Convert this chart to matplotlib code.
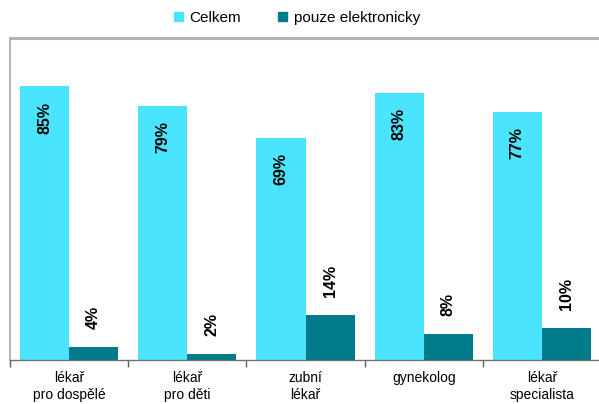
import numpy as np
import matplotlib
matplotlib.use('Agg')
import matplotlib.pyplot as plt
from matplotlib.patches import Patch

plt.rcParams['font.family'] = ['Liberation Sans', 'DejaVu Sans']

categories = ['lékař\npro dospělé', 'lékař\npro děti', 'zubní\nlékař', 'gynekolog', 'lékař\nspecialista']
celkem = [85, 79, 69, 83, 77]
elektronicky = [4, 2, 14, 8, 10]
series_names = ['Celkem', 'pouze elektronicky']

c_light = '#4ae4ff'
c_dark = '#007b8c'

W, H = 599, 404
fig = plt.figure(figsize=(W / 100, H / 100), dpi=100)
# axes in pixel coords: left 10, right 601, top 38, bottom 360
ax = fig.add_axes([10 / W, (H - 360) / H, (601 - 10) / W, (360 - 38) / H])

x = np.arange(len(categories))
bw = 0.415
ax.bar(x - bw / 2, celkem, bw, color=c_light, label=series_names[0])
ax.bar(x + bw / 2, elektronicky, bw, color=c_dark, label=series_names[1])

for xi, v in zip(x, celkem):
    ax.text(xi - bw / 2, v - 4.8, f'{v}%', rotation=90, ha='center', va='top',
            fontsize=11.5, fontweight='bold')
for xi, v in zip(x, elektronicky):
    ax.text(xi + bw / 2, v + 5.6, f'{v}%', rotation=90, ha='center', va='bottom',
            fontsize=11.5, fontweight='bold')

ax.set_xlim(-0.5, len(categories) - 0.5)
ax.set_ylim(0, 100)
ax.set_yticks([])

# tick marks between groups, labels centred under groups
ax.set_xticks(np.arange(len(categories)) - 0.5)
ax.set_xticklabels([])
ax.set_xticks(x, minor=True)
ax.set_xticklabels(categories, minor=True, fontsize=10, linespacing=1.3)
ax.tick_params(axis='x', which='major', length=5, width=1, color='#606060', direction='out')
ax.tick_params(axis='x', which='minor', length=0, pad=8)

ax.spines['right'].set_visible(False)
ax.spines['left'].set_color('#a6a6a6')
ax.spines['left'].set_linewidth(1.2)
ax.spines['top'].set_color('#b4b4b4')
ax.spines['top'].set_linewidth(2.2)
ax.spines['bottom'].set_color('#707070')
ax.spines['bottom'].set_linewidth(1)

handles = [Patch(color=c_light), Patch(color=c_dark)]
fig.legend(handles, series_names, loc='center', bbox_to_anchor=(297 / W, 1 - 18 / H),
           ncol=2, frameon=False, fontsize=11, handlelength=0.6, handleheight=0.6,
           handletextpad=0.45, columnspacing=2.4)

fig.savefig('out.png', dpi=100)
